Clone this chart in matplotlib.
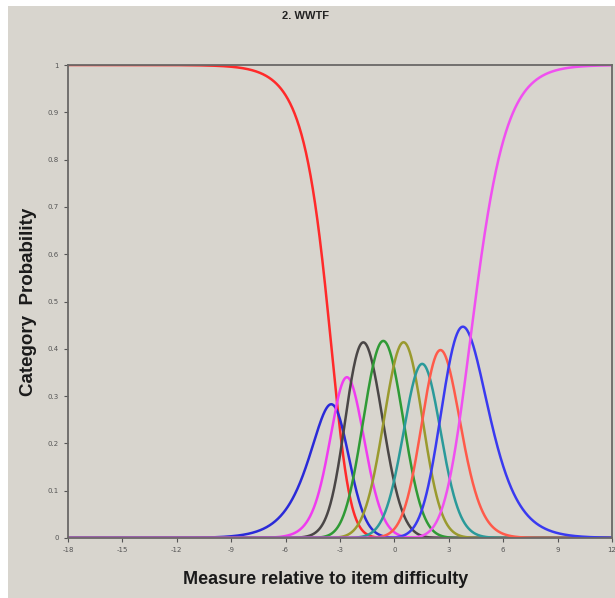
import numpy as np
import matplotlib
matplotlib.use("Agg")
import matplotlib.pyplot as plt
from matplotlib.patches import Rectangle

# Rasch-Andrich step calibrations (crossing points of adjacent categories)
umbrales = [-3.1, -3.23, -2.39, -1.18, -0.04, 1.15, 1.95, 3.0, 4.2]
discriminacion = 0.95
colores = ["#ff2a2a", "#2a2ad8", "#f03cf0", "#4a4646", "#2f9a35",
           "#9a9a2e", "#2a9a9a", "#ff5a4a", "#3a3af0", "#f050f0"]
ticksX = [-18, -15, -12, -9, -6, -3, 0, 3, 6, 9, 12]
ticksY = [0, 0.1, 0.2, 0.3, 0.4, 0.5, 0.6, 0.7, 0.8, 0.9, 1]
etiquetasY = ["0", "0.1", "0.2", "0.3", "0.4", "0.5", "0.6", "0.7", "0.8", "0.9", "1"]
titulo = "2. WWTF"
fondo = "#d8d5ce"


def probabilidades(theta, taus, a):
    # log-numeradores acumulados de cada categoria
    acum = np.zeros((len(taus) + 1, len(theta)))
    for k, t in enumerate(taus):
        acum[k + 1] = acum[k] + a * (theta - t)
    acum -= acum.max(axis=0)
    num = np.exp(acum)
    return num / num.sum(axis=0)


theta = np.linspace(-18, 12, 1201)
P = probabilidades(theta, umbrales, discriminacion)

fig = plt.figure(figsize=(6.15, 5.98), dpi=100)
fig.patch.set_facecolor("white")
fig.patches.append(Rectangle((8 / 615, 0), 1, 1 - 6 / 598, transform=fig.transFigure,
                             facecolor=fondo, edgecolor="none", zorder=-10))

ax = fig.add_axes([68 / 615, 1 - 538 / 598, (612 - 68) / 615, (538 - 65) / 598])
ax.set_facecolor(fondo)

for k in range(len(colores)):
    ax.plot(theta, P[k], color=colores[k], lw=1.8, solid_capstyle="round")

ax.set_xlim(-18, 12)
ax.set_ylim(0, 1)
ax.set_xticks(ticksX)
ax.set_xticklabels([str(v) for v in ticksX])
ax.set_yticks(ticksY)
ax.set_yticklabels(etiquetasY)
ax.tick_params(axis="both", labelsize=5, colors="#555555", length=3, width=0.8, direction="out")

for lado in ["left", "bottom", "top", "right"]:
    ax.spines[lado].set_color("#6a6866")
    ax.spines[lado].set_linewidth(1.3)

ax.set_xlabel("Measure relative to item difficulty", fontsize=13, fontweight="bold",
              color="#1a1a1a", family="Liberation Sans")
ax.xaxis.set_label_coords((326 - 68) / 544, -0.07)
ax.set_ylabel("Category  Probability", fontsize=13.5, fontweight="bold", color="#1a1a1a",
              family="Liberation Sans")
ax.yaxis.set_label_coords(-0.057, 0.5)
fig.text(306 / 615, 1 - 16 / 598, titulo, ha="center", va="center", fontsize=8,
         fontweight="bold", color="#222222", family="Liberation Sans")

fig.savefig("out.png", dpi=100, facecolor=fig.get_facecolor())
